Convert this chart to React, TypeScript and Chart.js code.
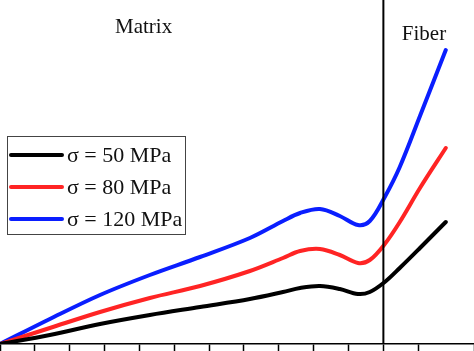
import React, { useEffect, useRef } from "react";
import { Chart, registerables } from "chart.js";

Chart.register(...registerables);

// x in tick units (one tick = one unit), y in plot units
const xPos = [0, 1.43, 2.87, 4.3, 5.74, 7.17, 8.12, 8.61, 9.18, 9.75, 10.27, 10.61, 11.04, 11.47, 12.05, 12.79];

const blueY = [0, 25, 49, 69, 87, 106, 123, 131, 135, 128, 119, 123, 147, 177, 228, 294];
const redY = [0, 16, 32, 46, 58, 73, 86, 93, 95, 89, 81, 84, 100, 122, 156, 196];
const blackY = [0, 9, 20, 29, 37, 45, 52, 56, 58, 55, 50, 52, 62, 76, 96, 122];

const seriesLabels = ["σ = 50 MPa", "σ = 80 MPa", "σ = 120 MPa"];
const seriesColors = ["#000000", "#ff2424", "#0a1eff"];

const boundaryX = 11;
const regionLabels = ["Matrix", "Fiber"];
const regionLabelX = [3.3, 11.53];
const regionLabelY = [311, 304];

const xMax = 13.6;
const yMax = 344;

const toPts = (xs: number[], ys: number[]) => xs.map((x, i) => ({ x, y: ys[i] }));

export default function App() {
  const ref = useRef<HTMLCanvasElement | null>(null);

  useEffect(() => {
    document.body.style.margin = "0";
    const canvas = ref.current;
    if (!canvas) return;

    const overlay = {
      id: "overlay",
      afterDatasetsDraw(chart: any) {
        const ctx = chart.ctx;
        const xs = chart.scales.x;
        const ys = chart.scales.y;
        ctx.save();
        ctx.fillStyle = "#111";
        ctx.font = "21px 'Liberation Serif', serif";
        ctx.textBaseline = "alphabetic";
        ctx.textAlign = "left";
        regionLabels.forEach((t, i) => {
          ctx.fillText(t, xs.getPixelForValue(regionLabelX[i]), ys.getPixelForValue(regionLabelY[i]));
        });
        const bx = 7, by = 136, bw = 178, bh = 98;
        ctx.fillStyle = "#ffffff";
        ctx.fillRect(bx, by, bw, bh);
        ctx.strokeStyle = "#444";
        ctx.lineWidth = 1;
        ctx.strokeRect(bx + 0.5, by + 0.5, bw, bh);
        ctx.font = "22px 'Liberation Serif', serif";
        ctx.textBaseline = "middle";
        seriesLabels.forEach((t, i) => {
          const yy = 155 + i * 32;
          ctx.strokeStyle = seriesColors[i];
          ctx.lineWidth = 4;
          ctx.lineCap = "round";
          ctx.beginPath();
          ctx.moveTo(11, yy);
          ctx.lineTo(62, yy);
          ctx.stroke();
          ctx.fillStyle = "#111";
          ctx.fillText(t, 67, yy + 1);
        });
        ctx.restore();
      },
    };

    const lineDs = (i: number, ys: number[]) => ({
      label: seriesLabels[i],
      data: toPts(xPos, ys),
      borderColor: seriesColors[i],
      borderWidth: 4,
      pointRadius: 0,
      tension: 0.35,
      borderCapStyle: "round" as const,
    });

    const chart = new Chart(canvas, {
      type: "line",
      data: {
        datasets: [
          {
            label: "boundary",
            data: [{ x: boundaryX, y: 0 }, { x: boundaryX, y: yMax }],
            borderColor: "#000",
            borderWidth: 2,
            pointRadius: 0,
            tension: 0,
          },
          lineDs(0, blackY),
          lineDs(1, redY),
          lineDs(2, blueY),
        ],
      },
      options: {
        animation: false,
        responsive: false,
        maintainAspectRatio: false,
        layout: { padding: 0, autoPadding: false },
        plugins: { legend: { display: false }, tooltip: { enabled: false } },
        scales: {
          x: {
            type: "linear",
            min: 0,
            max: xMax,
            ticks: { display: false, stepSize: 1 },
            grid: { drawOnChartArea: false, tickLength: 7, tickColor: "#000", tickWidth: 1.5 },
            border: { color: "#000", width: 1.5 },
          },
          y: {
            display: false,
            min: 0,
            max: yMax,
          },
        },
      },
      plugins: [overlay],
    });

    return () => chart.destroy();
  }, []);

  return (
    <div style={{ width: 474, height: 351, background: "#fff" }}>
      <canvas ref={ref} width={474} height={351} style={{ display: "block" }} />
    </div>
  );
}
